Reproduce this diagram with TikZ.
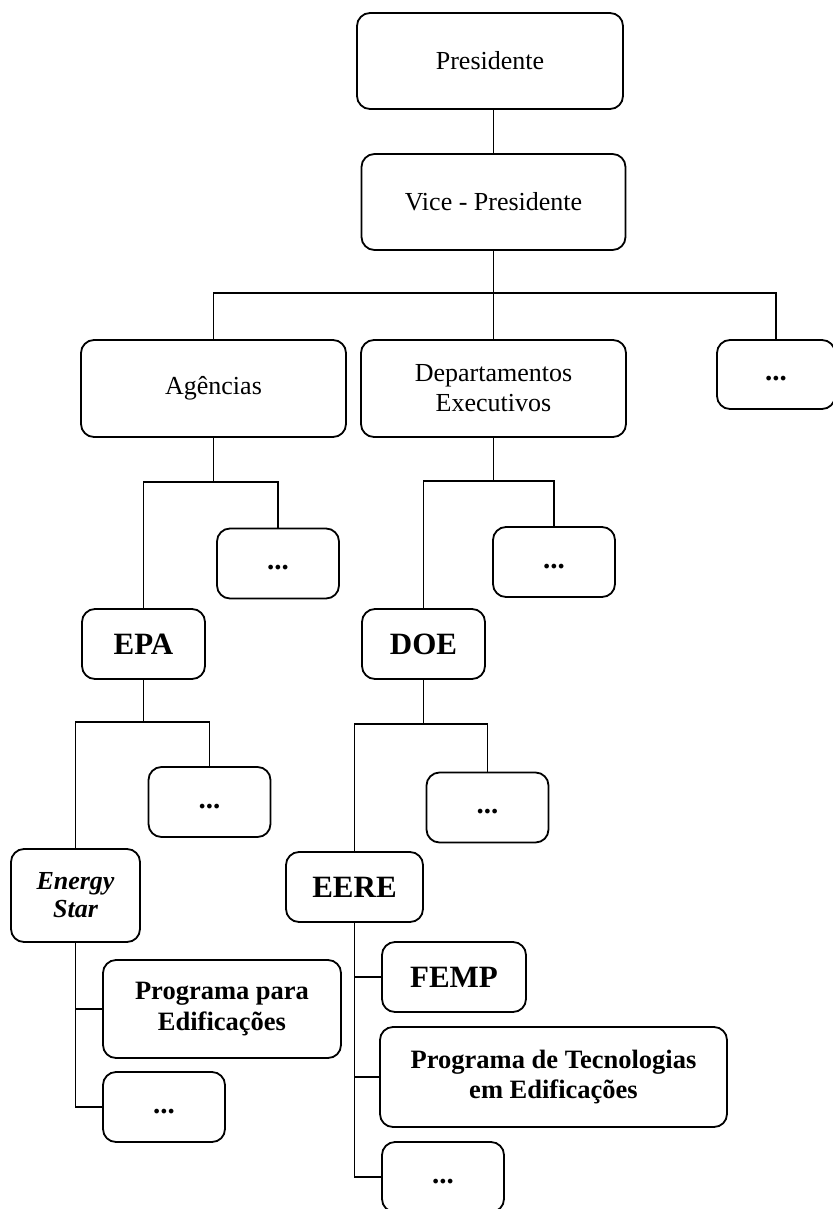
\documentclass[tikz,border=0pt]{standalone}
\usepackage{fontspec}
\setmainfont{Liberation Serif}
\usetikzlibrary{calc,positioning}

\begin{document}
\begin{tikzpicture}[x=1pt,y=-1pt]

\tikzset{
box/.style={draw=black,line width=1.8pt,rounded corners=13pt,align=center,inner sep=0pt,font=\fontsize{26}{30}\selectfont},
bigbox/.style={box,font=\fontsize{31}{36}\selectfont\bfseries},
progbox/.style={box,font=\fontsize{26.5}{30.5}\selectfont\bfseries},
etcbox/.style={box,font=\fontsize{29}{30}\selectfont\bfseries,minimum width=122pt,minimum height=70pt},
link/.style={line width=1.6pt}
}

\useasboundingbox (0,0) rectangle (832,1209);

% Nodes
\node[box,minimum width=266pt,minimum height=96pt] (pres) at (490,61) {Presidente};
\node[box,minimum width=264pt,minimum height=96pt] (vice) at (493.5,202) {Vice - Presidente};

\node[box,minimum width=265pt,minimum height=97pt] (agen) at (213.5,388.5) {Agências};
\node[box,minimum width=265pt,minimum height=97pt] (dept) at (493.5,388.5) {Departamentos\\Executivos};
\node[etcbox,minimum width=118pt,minimum height=69pt] (etc1) at (776,374.5) {\strut...};

\node[etcbox] (agenetc) at (278,563.5) {\strut...};
\node[etcbox] (deptetc) at (554,562) {\strut...};

\node[bigbox,minimum width=123pt,minimum height=70pt] (epa) at (143.5,644) {EPA};
\node[bigbox,minimum width=123pt,minimum height=70pt] (doe) at (423.5,644) {DOE};

\node[etcbox] (epaetc) at (209.5,802) {\strut...};
\node[etcbox] (doeetc) at (487.5,807.5) {\strut...};

\node[progbox,font=\fontsize{26}{28}\selectfont\bfseries\itshape,minimum width=129pt,minimum height=93pt] (star) at (75.5,895.5) {Energy\\Star};
\node[bigbox,minimum width=137pt,minimum height=70pt] (eere) at (354.5,887) {EERE};

\node[progbox,minimum width=238pt,minimum height=98pt] (prog1) at (222,1009) {Programa para\\Edificações};
\node[etcbox] (staretc) at (164,1107) {\strut...};

\node[bigbox,minimum width=144pt,minimum height=70pt] (femp) at (454,977) {FEMP};
\node[progbox,minimum width=347pt,minimum height=100pt] (prog2) at (553.5,1077) {Programa de Tecnologias\\em Edificações};
\node[etcbox] (eereetc) at (443,1177) {\strut...};

% Junctions
\coordinate (j0) at (493.5,293);
\coordinate (j1) at (213.5,482);
\coordinate (j2) at (493.5,481);
\coordinate (j3) at (143.5,722);
\coordinate (j4) at (423.5,724);

% Lines
\draw[link] (vice.north |- pres.south) -- (vice.north);
\draw[link] (vice.south) -- (j0);
\draw[link] (agen.north) |- (j0) -| (etc1.north);
\draw[link] (j0) -- (dept.north);

\draw[link] (agen.south) -- (j1);
\draw[link] (epa.north) |- (j1) -| (agenetc.north);
\draw[link] (dept.south) -- (j2);
\draw[link] (doe.north) |- (j2) -| (deptetc.north);

\draw[link] (epa.south) -- (j3);
\draw[link] (star.north) |- (j3) -| (epaetc.north);
\draw[link] (doe.south) -- (j4);
\draw[link] (eere.north) |- (j4) -| (doeetc.north);

\draw[link] (star.south) |- (staretc.west);
\draw[link] (star.south |- prog1.west) -- (prog1.west);

\draw[link] (eere.south) |- (eereetc.west);
\draw[link] (eere.south |- femp.west) -- (femp.west);
\draw[link] (eere.south |- prog2.west) -- (prog2.west);

\end{tikzpicture}
\end{document}
